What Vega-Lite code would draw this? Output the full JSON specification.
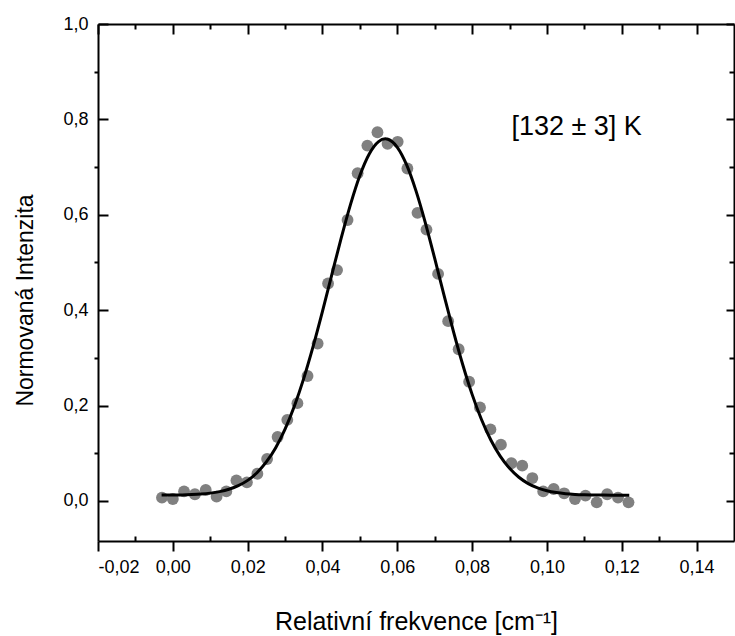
{
  "$schema": "https://vega.github.io/schema/vega-lite/v6.json",
  "width": 636,
  "height": 517,
  "autosize": {"type": "none"},
  "padding": {"left": 98, "top": 24, "right": 1, "bottom": 95},
  "background": "white",
  "config": {
    "view": {"stroke": null},
    "axis": {
      "grid": false,
      "domainColor": "black",
      "tickColor": "black",
      "domainWidth": 2,
      "tickWidth": 2,
      "labelFont": "Liberation Sans",
      "titleFont": "Liberation Sans",
      "labelColor": "black",
      "titleColor": "black",
      "titleFontWeight": "normal"
    }
  },
  "datasets": {
    "pts": [
      {"x": -0.0029, "y": 0.007}, {"x": 0.0000, "y": 0.004}, {"x": 0.0030, "y": 0.020}, {"x": 0.0059, "y": 0.014},
      {"x": 0.0088, "y": 0.023}, {"x": 0.0117, "y": 0.009}, {"x": 0.0143, "y": 0.020}, {"x": 0.0170, "y": 0.043},
      {"x": 0.0198, "y": 0.039}, {"x": 0.0226, "y": 0.057}, {"x": 0.0252, "y": 0.088}, {"x": 0.0280, "y": 0.134},
      {"x": 0.0306, "y": 0.170}, {"x": 0.0333, "y": 0.205}, {"x": 0.0360, "y": 0.262}, {"x": 0.0387, "y": 0.330},
      {"x": 0.0415, "y": 0.456}, {"x": 0.0439, "y": 0.484}, {"x": 0.0467, "y": 0.589}, {"x": 0.0494, "y": 0.687},
      {"x": 0.0520, "y": 0.745}, {"x": 0.0547, "y": 0.773}, {"x": 0.0574, "y": 0.749}, {"x": 0.0601, "y": 0.753},
      {"x": 0.0627, "y": 0.697}, {"x": 0.0654, "y": 0.604}, {"x": 0.0678, "y": 0.569}, {"x": 0.0709, "y": 0.476},
      {"x": 0.0736, "y": 0.377}, {"x": 0.0764, "y": 0.318}, {"x": 0.0792, "y": 0.250}, {"x": 0.0821, "y": 0.196},
      {"x": 0.0849, "y": 0.150}, {"x": 0.0877, "y": 0.118}, {"x": 0.0905, "y": 0.079}, {"x": 0.0934, "y": 0.074},
      {"x": 0.0961, "y": 0.048}, {"x": 0.0990, "y": 0.020}, {"x": 0.1018, "y": 0.025}, {"x": 0.1046, "y": 0.016},
      {"x": 0.1075, "y": 0.004}, {"x": 0.1103, "y": 0.011}, {"x": 0.1133, "y": -0.003}, {"x": 0.1161, "y": 0.014},
      {"x": 0.1190, "y": 0.007}, {"x": 0.1218, "y": -0.003}
    ],
    "fit": [
      {"x": -0.003, "y": 0.0122}, {"x": 0.0, "y": 0.0124}, {"x": 0.0025, "y": 0.0127}, {"x": 0.005, "y": 0.0134},
      {"x": 0.0075, "y": 0.0145}, {"x": 0.01, "y": 0.0164}, {"x": 0.0125, "y": 0.0195}, {"x": 0.015, "y": 0.0244},
      {"x": 0.0175, "y": 0.0320}, {"x": 0.02, "y": 0.0431}, {"x": 0.0225, "y": 0.0592}, {"x": 0.025, "y": 0.0817},
      {"x": 0.0275, "y": 0.1117}, {"x": 0.03, "y": 0.1506}, {"x": 0.0325, "y": 0.1990}, {"x": 0.035, "y": 0.2570},
      {"x": 0.0375, "y": 0.3239}, {"x": 0.04, "y": 0.3974}, {"x": 0.0425, "y": 0.4745}, {"x": 0.045, "y": 0.5509},
      {"x": 0.0475, "y": 0.6219}, {"x": 0.05, "y": 0.6824}, {"x": 0.0525, "y": 0.7275}, {"x": 0.055, "y": 0.7535},
      {"x": 0.0568, "y": 0.7592}, {"x": 0.0575, "y": 0.7583}, {"x": 0.06, "y": 0.7415}, {"x": 0.0625, "y": 0.7045},
      {"x": 0.065, "y": 0.6501}, {"x": 0.0675, "y": 0.5832}, {"x": 0.07, "y": 0.5084}, {"x": 0.0725, "y": 0.4311},
      {"x": 0.075, "y": 0.3555}, {"x": 0.0775, "y": 0.2855}, {"x": 0.08, "y": 0.2234}, {"x": 0.0825, "y": 0.1707},
      {"x": 0.085, "y": 0.1277}, {"x": 0.0875, "y": 0.0938}, {"x": 0.09, "y": 0.0683}, {"x": 0.0925, "y": 0.0496},
      {"x": 0.095, "y": 0.0363}, {"x": 0.0975, "y": 0.0273}, {"x": 0.1, "y": 0.0213}, {"x": 0.1025, "y": 0.0175},
      {"x": 0.105, "y": 0.0151}, {"x": 0.1075, "y": 0.0137}, {"x": 0.11, "y": 0.0129}, {"x": 0.1125, "y": 0.0124},
      {"x": 0.115, "y": 0.0122}, {"x": 0.1175, "y": 0.0121}, {"x": 0.12, "y": 0.012}, {"x": 0.122, "y": 0.012}
    ],
    "note": [
      {"x": 0.0905, "y": 0.768, "label": "[132 ± 3] K"}
    ]
  },
  "layer": [
    {
      "data": {"name": "pts"},
      "mark": {"type": "point", "filled": true, "shape": "circle", "size": 140, "color": "#808080", "opacity": 1},
      "encoding": {
        "x": {
          "field": "x", "type": "quantitative",
          "scale": {"domain": [-0.02, 0.15], "nice": false, "zero": false},
          "axis": {
            "orient": "bottom",
            "values": [-0.02, 0, 0.02, 0.04, 0.06, 0.08, 0.1, 0.12, 0.14],
            "tickSize": 10,
            "labelFontSize": 18,
            "labelPadding": 7,
            "labelExpr": "replace(replace(format(datum.value, '.2f'), '.', ','), '−', '-')",
            "title": "Relativní frekvence [cm⁻¹]",
            "titleFontSize": 25,
            "titleBaseline": "alphabetic",
            "titleY": 88
          }
        },
        "y": {
          "field": "y", "type": "quantitative",
          "scale": {"domain": [-0.084, 1.0], "nice": false, "zero": false},
          "axis": {
            "orient": "left",
            "values": [0, 0.2, 0.4, 0.6, 0.8, 1.0],
            "ticks": false,
            "labelPadding": 10,
            "labelFontSize": 18,
            "labelExpr": "replace(format(datum.value, '.1f'), '.', ',')",
            "title": "Normovaná Intenzita",
            "titleFontSize": 23,
            "titleAngle": -90,
            "titleAlign": "center",
            "titleBaseline": "alphabetic",
            "titleX": -66,
            "titleY": 276
          }
        }
      }
    },
    {
      "data": {"name": "fit"},
      "mark": {"type": "line", "color": "black", "strokeWidth": 3, "interpolate": "monotone"},
      "encoding": {
        "x": {
          "field": "x", "type": "quantitative",
          "scale": {"domain": [-0.02, 0.15], "nice": false, "zero": false},
          "axis": {
            "orient": "bottom",
            "values": [-0.01, 0.01, 0.03, 0.05, 0.07, 0.09, 0.11, 0.13],
            "tickSize": -5, "labels": false, "domain": false, "title": null
          }
        },
        "y": {
          "field": "y", "type": "quantitative",
          "scale": {"domain": [-0.084, 1.0], "nice": false, "zero": false},
          "axis": {
            "orient": "left",
            "values": [0, 0.2, 0.4, 0.6, 0.8, 1.0],
            "tickSize": -10, "labels": false, "domain": false, "title": null
          }
        }
      }
    },
    {
      "data": {"name": "note"},
      "mark": {"type": "text", "font": "Liberation Sans", "fontSize": 27, "align": "left", "baseline": "alphabetic", "color": "black"},
      "encoding": {
        "x": {
          "field": "x", "type": "quantitative",
          "scale": {"domain": [-0.02, 0.15], "nice": false, "zero": false},
          "axis": {
            "orient": "top",
            "values": [-0.02, 0, 0.02, 0.04, 0.06, 0.08, 0.1, 0.12, 0.14],
            "tickSize": -10, "labels": false, "domain": true, "title": null
          }
        },
        "y": {
          "field": "y", "type": "quantitative",
          "scale": {"domain": [-0.084, 1.0], "nice": false, "zero": false},
          "axis": {
            "orient": "left",
            "values": [0.1, 0.3, 0.5, 0.7, 0.9],
            "tickSize": 4, "labels": false, "domain": false, "title": null
          }
        },
        "text": {"field": "label", "type": "nominal"}
      }
    },
    {
      "data": {"name": "fit"},
      "mark": {"type": "line", "color": "black", "opacity": 0},
      "encoding": {
        "x": {
          "field": "x", "type": "quantitative",
          "scale": {"domain": [-0.02, 0.15], "nice": false, "zero": false},
          "axis": {
            "orient": "top",
            "values": [-0.01, 0.01, 0.03, 0.05, 0.07, 0.09, 0.11, 0.13],
            "tickSize": -5, "labels": false, "domain": false, "title": null
          }
        },
        "y": {
          "field": "y", "type": "quantitative",
          "scale": {"domain": [-0.084, 1.0], "nice": false, "zero": false},
          "axis": {
            "orient": "right",
            "values": [0, 0.2, 0.4, 0.6, 0.8, 1.0],
            "tickSize": -8, "labels": false, "domain": true, "title": null
          }
        }
      }
    },
    {
      "data": {"name": "fit"},
      "mark": {"type": "line", "color": "black", "opacity": 0},
      "encoding": {
        "x": {
          "field": "x", "type": "quantitative",
          "scale": {"domain": [-0.02, 0.15], "nice": false, "zero": false},
          "axis": null
        },
        "y": {
          "field": "y", "type": "quantitative",
          "scale": {"domain": [-0.084, 1.0], "nice": false, "zero": false},
          "axis": {
            "orient": "right",
            "values": [0.1, 0.3, 0.5, 0.7, 0.9],
            "tickSize": -5, "labels": false, "domain": false, "title": null
          }
        }
      }
    }
  ],
  "resolve": {"axis": {"x": "independent", "y": "independent"}}
}
